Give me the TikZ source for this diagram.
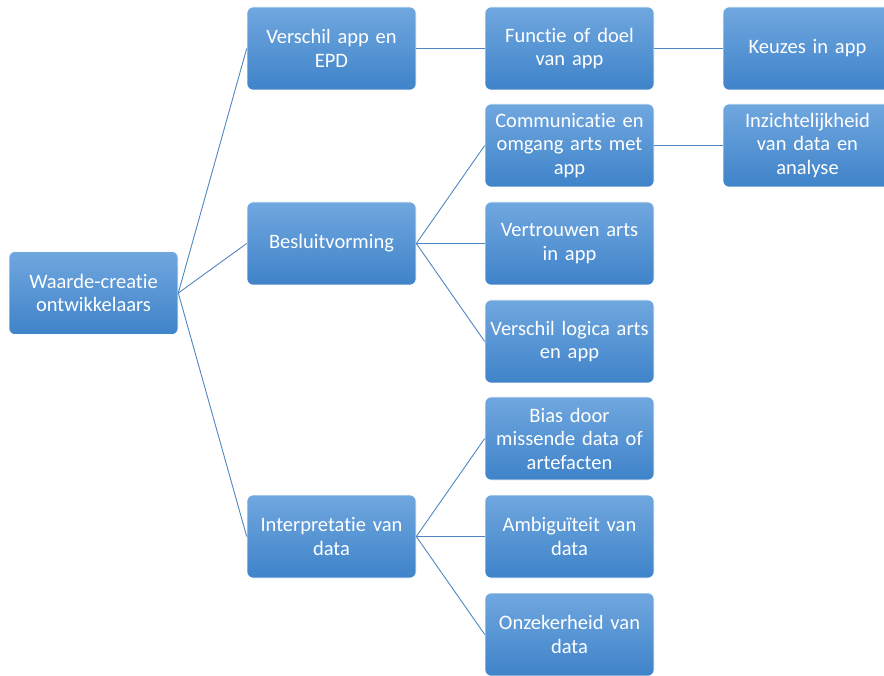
\documentclass[tikz,border=0pt]{standalone}
\usepackage{fontspec}
\setmainfont{Carlito}[RawFeature=-liga]
\usepackage{tikz}
\usepackage{xcolor}
\definecolor{box_top}{HTML}{70A7DF}
\definecolor{box_bot}{HTML}{3F83C9}
\definecolor{link_col}{HTML}{5087C2}
\tikzset{
    base_box/.style={rectangle, rounded corners=6pt, minimum width=169pt, minimum height=83pt,
                     inner sep=2pt, text width=165pt, align=center, text=white,
                     top color=box_top, bottom color=box_bot, draw=white, line width=0.6pt,
                     font=\fontsize{20.5}{23.5}\selectfont},
    link/.style={draw=link_col, line width=0.9pt}
}

\begin{document}
\begin{tikzpicture}[x=1pt, y=-1pt]
    \useasboundingbox (0,0) rectangle (884,676);
    \clip (0,0) rectangle (884,676);
    % root
    \node[base_box] (root) at (93.5, 293) {Waarde-creatie\\ontwikkelaars};
    % first level
    \node[base_box] (verschil) at (331.5, 48.5) {Verschil app en\\EPD};
    \node[base_box] (besluit) at (331.5, 243.5) {Besluitvorming};
    \node[base_box] (interp) at (331.5, 536.5) {Interpretatie van\\data};
    % second level
    \node[base_box] (functie) at (569.5, 48.5) {Functie of doel\\van app};
    \node[base_box] (commun) at (569.5, 145.5) {Communicatie en\\omgang arts met\\app};
    \node[base_box] (vertrouwen) at (569.5, 243.5) {Vertrouwen arts\\in app};
    \node[base_box] (logica) at (569.5, 341.5) {Verschil logica arts\\en app};
    \node[base_box] (bias) at (569.5, 438.5) {Bias door\\missende data of\\artefacten};
    \node[base_box] (ambig) at (569.5, 536.5) {Ambigu\"iteit van\\data};
    \node[base_box] (onzeker) at (569.5, 634.5) {Onzekerheid van\\data};
    % third level
    \node[base_box] (keuzes) at (807.5, 48.5) {Keuzes in app};
    \node[base_box] (inzicht) at (807.5, 145.5) {Inzichtelijkheid\\van data en\\analyse};
    % links
    \draw[link] (root.east) -- (verschil.west);
    \draw[link] (root.east) -- (besluit.west);
    \draw[link] (root.east) -- (interp.west);
    \draw[link] (verschil.east) -- (functie.west);
    \draw[link] (functie.east) -- (keuzes.west);
    \draw[link] (besluit.east) -- (commun.west);
    \draw[link] (besluit.east) -- (vertrouwen.west);
    \draw[link] (besluit.east) -- (logica.west);
    \draw[link] (commun.east) -- (inzicht.west);
    \draw[link] (interp.east) -- (bias.west);
    \draw[link] (interp.east) -- (ambig.west);
    \draw[link] (interp.east) -- (onzeker.west);
\end{tikzpicture}
\end{document}
